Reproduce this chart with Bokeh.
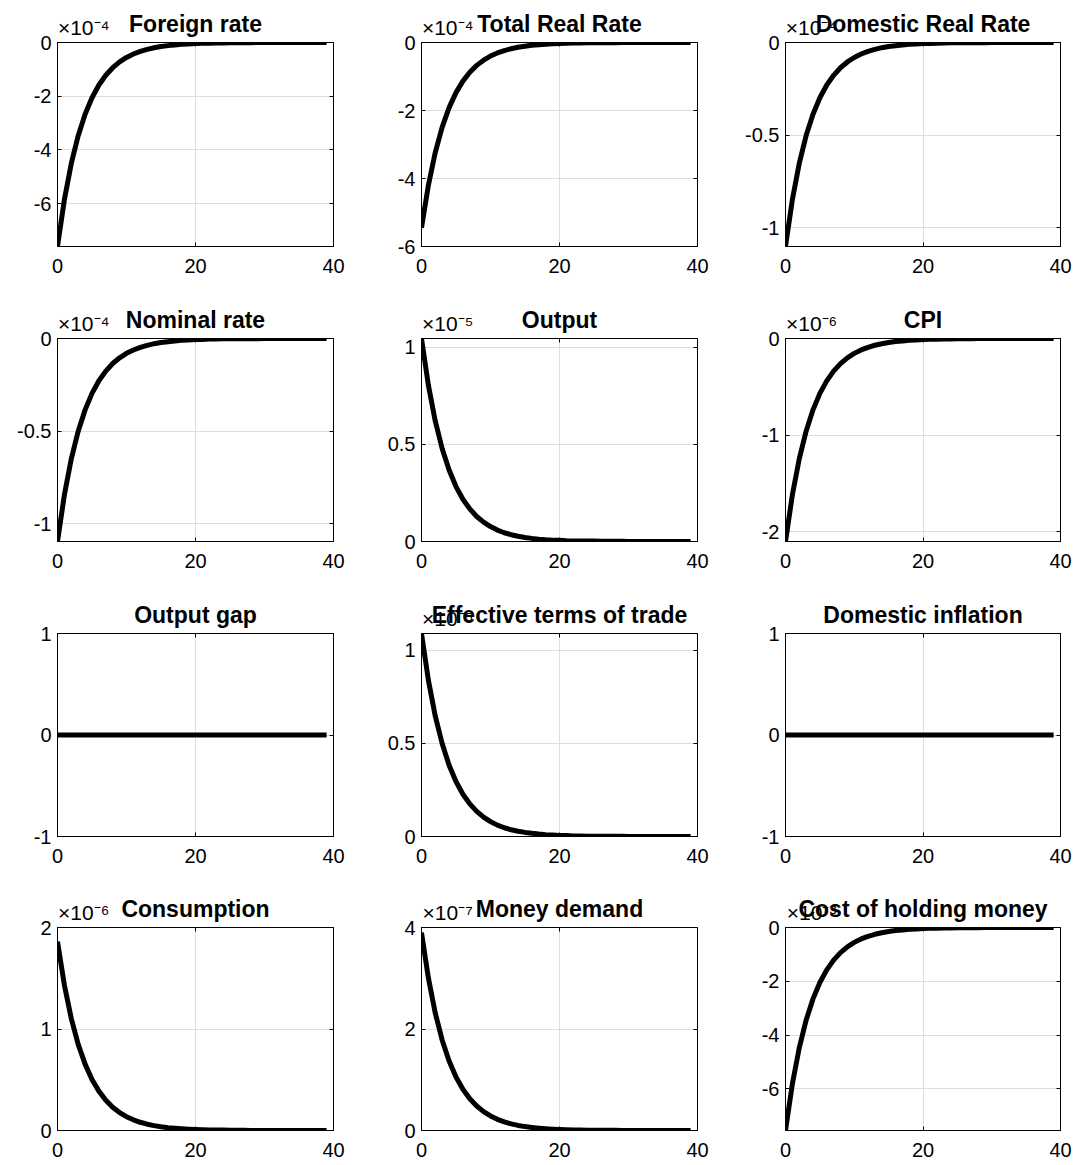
from bokeh.plotting import figure
from bokeh.layouts import gridplot
from bokeh.models import Range1d, FixedTicker, CustomJSTickFormatter, LinearAxis
from bokeh.embed import file_html
from bokeh.resources import INLINE

# ---------------- data (display units; multiply by 10^exponent) ----------------
periods = list(range(40))

foreign_rate = [-7.6, -5.852, -4.506, -3.470, -2.672, -2.057, -1.584, -1.220, -0.939, -0.723,
                -0.557, -0.429, -0.330, -0.254, -0.196, -0.151, -0.116, -0.089, -0.069, -0.053,
                -0.041, -0.031, -0.024, -0.019, -0.014, -0.011, -0.009, -0.007, -0.005, -0.004,
                -0.003, -0.002, -0.002, -0.001, -0.001, -0.001, -0.001, 0.0, 0.0, 0.0]
total_real_rate = [-5.45, -4.197, -3.231, -2.488, -1.916, -1.475, -1.136, -0.875, -0.673, -0.519,
                   -0.399, -0.307, -0.237, -0.182, -0.140, -0.108, -0.083, -0.064, -0.049, -0.038,
                   -0.029, -0.023, -0.017, -0.013, -0.010, -0.008, -0.006, -0.005, -0.004, -0.003,
                   -0.002, -0.002, -0.001, -0.001, -0.001, -0.001, 0.0, 0.0, 0.0, 0.0]
domestic_real_rate = [-1.1, -0.847, -0.652, -0.502, -0.387, -0.298, -0.229, -0.177, -0.136, -0.105,
                      -0.081, -0.062, -0.048, -0.037, -0.028, -0.022, -0.017, -0.013, -0.010, -0.008,
                      -0.006, -0.005, -0.004, -0.003, -0.002, -0.002, -0.001, -0.001, -0.001, -0.001,
                      0.0, 0.0, 0.0, 0.0, 0.0, 0.0, 0.0, 0.0, 0.0, 0.0]
nominal_rate = [-1.095, -0.843, -0.649, -0.500, -0.385, -0.296, -0.228, -0.176, -0.135, -0.104,
                -0.080, -0.062, -0.048, -0.037, -0.028, -0.022, -0.017, -0.013, -0.010, -0.008,
                -0.006, -0.005, -0.003, -0.003, -0.002, -0.002, -0.001, -0.001, -0.001, -0.001,
                0.0, 0.0, 0.0, 0.0, 0.0, 0.0, 0.0, 0.0, 0.0, 0.0]
output = [1.046, 0.805, 0.620, 0.478, 0.368, 0.283, 0.218, 0.168, 0.129, 0.100,
          0.077, 0.059, 0.045, 0.035, 0.027, 0.021, 0.016, 0.012, 0.009, 0.007,
          0.006, 0.004, 0.003, 0.003, 0.002, 0.002, 0.001, 0.001, 0.001, 0.001,
          0.0, 0.0, 0.0, 0.0, 0.0, 0.0, 0.0, 0.0, 0.0, 0.0]
cpi = [-2.1, -1.617, -1.245, -0.959, -0.738, -0.568, -0.438, -0.337, -0.260, -0.200,
       -0.154, -0.118, -0.091, -0.070, -0.054, -0.042, -0.032, -0.025, -0.019, -0.015,
       -0.011, -0.009, -0.007, -0.005, -0.004, -0.003, -0.002, -0.002, -0.001, -0.001,
       -0.001, -0.001, 0.0, 0.0, 0.0, 0.0, 0.0, 0.0, 0.0, 0.0]
output_gap = [0.0, 0.0, 0.0, 0.0, 0.0, 0.0, 0.0, 0.0, 0.0, 0.0,
              0.0, 0.0, 0.0, 0.0, 0.0, 0.0, 0.0, 0.0, 0.0, 0.0,
              0.0, 0.0, 0.0, 0.0, 0.0, 0.0, 0.0, 0.0, 0.0, 0.0,
              0.0, 0.0, 0.0, 0.0, 0.0, 0.0, 0.0, 0.0, 0.0, 0.0]
terms_of_trade = [1.09, 0.839, 0.646, 0.498, 0.383, 0.295, 0.227, 0.175, 0.135, 0.104,
                  0.080, 0.061, 0.047, 0.036, 0.028, 0.022, 0.017, 0.013, 0.010, 0.008,
                  0.006, 0.005, 0.003, 0.003, 0.002, 0.002, 0.001, 0.001, 0.001, 0.001,
                  0.0, 0.0, 0.0, 0.0, 0.0, 0.0, 0.0, 0.0, 0.0, 0.0]
domestic_inflation = [0.0, 0.0, 0.0, 0.0, 0.0, 0.0, 0.0, 0.0, 0.0, 0.0,
                      0.0, 0.0, 0.0, 0.0, 0.0, 0.0, 0.0, 0.0, 0.0, 0.0,
                      0.0, 0.0, 0.0, 0.0, 0.0, 0.0, 0.0, 0.0, 0.0, 0.0,
                      0.0, 0.0, 0.0, 0.0, 0.0, 0.0, 0.0, 0.0, 0.0, 0.0]
consumption = [1.86, 1.432, 1.103, 0.849, 0.654, 0.503, 0.388, 0.299, 0.230, 0.177,
               0.136, 0.105, 0.081, 0.062, 0.048, 0.037, 0.028, 0.022, 0.017, 0.013,
               0.010, 0.008, 0.006, 0.005, 0.004, 0.003, 0.002, 0.002, 0.001, 0.001,
               0.001, 0.001, 0.0, 0.0, 0.0, 0.0, 0.0, 0.0, 0.0, 0.0]
money_demand = [3.9, 3.003, 2.312, 1.780, 1.371, 1.056, 0.813, 0.626, 0.482, 0.371,
                0.286, 0.220, 0.169, 0.130, 0.100, 0.077, 0.060, 0.046, 0.035, 0.027,
                0.021, 0.016, 0.012, 0.010, 0.007, 0.006, 0.004, 0.003, 0.003, 0.002,
                0.002, 0.001, 0.001, 0.001, 0.001, 0.0, 0.0, 0.0, 0.0, 0.0]
cost_of_money = [-7.55, -5.814, -4.476, -3.447, -2.654, -2.044, -1.574, -1.212, -0.933, -0.718,
                 -0.553, -0.426, -0.328, -0.253, -0.194, -0.150, -0.115, -0.089, -0.068, -0.053,
                 -0.041, -0.031, -0.024, -0.019, -0.014, -0.011, -0.008, -0.007, -0.005, -0.004,
                 -0.003, -0.002, -0.002, -0.001, -0.001, -0.001, -0.001, 0.0, 0.0, 0.0]

titles = ["Foreign rate", "Total Real Rate", "Domestic Real Rate",
          "Nominal rate", "Output", "CPI",
          "Output gap", "Effective terms of trade", "Domestic inflation",
          "Consumption", "Money demand", "Cost of holding money"]
series = [foreign_rate, total_real_rate, domestic_real_rate,
          nominal_rate, output, cpi,
          output_gap, terms_of_trade, domestic_inflation,
          consumption, money_demand, cost_of_money]
y_limits = [(-7.6, 0), (-6, 0), (-1.1, 0),
            (-1.095, 0), (0, 1.046), (-2.1, 0),
            (-1, 1), (0, 1.09), (-1, 1),
            (0, 2), (0, 4), (-7.55, 0)]
y_ticks = [[-6, -4, -2, 0], [-6, -4, -2, 0], [-1, -0.5, 0],
           [-1, -0.5, 0], [0, 0.5, 1], [-2, -1, 0],
           [-1, 0, 1], [0, 0.5, 1], [-1, 0, 1],
           [0, 1, 2], [0, 2, 4], [-6, -4, -2, 0]]
exponent_labels = ["\u00d710\u207b\u2074", "\u00d710\u207b\u2074", "\u00d710\u207b\u2074",
                   "\u00d710\u207b\u2074", "\u00d710\u207b\u2075", "\u00d710\u207b\u2076",
                   None, "\u00d710\u207b\u2075", None,
                   "\u00d710\u207b\u2076", "\u00d710\u207b\u2077", "\u00d710\u207b\u00b3"]
x_ticks = [0, 20, 40]
x_limits = (0, 40)
exponent_anchor_x = 3.8   # data position at which the exponent text is centred

# ---------------- layout ----------------
FONT = "Liberation Sans"
col_left = [57, 63, 69]
col_right = [25, 19, 14]
col_frame_w = [276, 276, 275]
row_top = [42, 47, 51, 54]
row_bottom = [45, 41, 37, 35]
row_frame_h = [204, 203, 203, 203]

fmt = CustomJSTickFormatter(code="return tick.toString();")
blank = CustomJSTickFormatter(code="return '';")

grid = []
for r in range(4):
    row = []
    for c in range(3):
        i = r * 3 + c
        p = figure(frame_width=col_frame_w[c], frame_height=row_frame_h[r],
                   min_border_left=col_left[c], min_border_right=col_right[c],
                   min_border_top=row_top[r], min_border_bottom=row_bottom[r],
                   x_range=Range1d(*x_limits), y_range=Range1d(*y_limits[i]),
                   output_backend="svg", toolbar_location=None,
                   background_fill_color="white", border_fill_color="white")
        p.title.text = titles[i]
        p.title.align = "center"
        p.title.text_font = FONT
        p.title.text_font_size = "23px"
        p.title.text_font_style = "bold"
        p.title.text_color = "black"
        p.title.standoff = 12

        p.outline_line_color = "black"
        p.outline_line_width = 1
        p.outline_line_alpha = 1

        p.xaxis.ticker = FixedTicker(ticks=x_ticks)
        p.yaxis.ticker = FixedTicker(ticks=y_ticks[i])
        for ax in (p.xaxis[0], p.yaxis[0]):
            ax.formatter = fmt
            ax.major_label_text_font = FONT
            ax.major_label_text_font_size = "20px"
            ax.major_label_text_color = "black"
            ax.major_tick_in = 4
            ax.major_tick_out = 0
            ax.minor_tick_line_color = None
            ax.axis_line_color = "black"
            ax.major_tick_line_color = "black"
        p.xaxis.major_label_standoff = 12
        p.yaxis.major_label_standoff = 6

        p.xgrid.ticker = FixedTicker(ticks=x_ticks)
        p.ygrid.ticker = FixedTicker(ticks=y_ticks[i])
        p.grid.grid_line_color = "#dedede"
        p.grid.grid_line_width = 1

        # mirrored ticks (box on)
        rax = LinearAxis(ticker=FixedTicker(ticks=y_ticks[i]), formatter=blank,
                         major_label_text_font_size="0px", major_label_standoff=0,
                         major_tick_in=4, major_tick_out=0, axis_line_color=None,
                         minor_tick_line_color=None)
        p.add_layout(rax, "right")
        tax = LinearAxis(ticker=FixedTicker(ticks=x_ticks), formatter=blank,
                         major_label_text_font_size="0px", major_label_standoff=0,
                         major_tick_in=4, major_tick_out=0, axis_line_color=None,
                         minor_tick_line_color=None)
        p.add_layout(tax, "above")

        if exponent_labels[i] is not None:
            code = "return '%s';" % exponent_labels[i]
            eax = LinearAxis(ticker=FixedTicker(ticks=[exponent_anchor_x]),
                             formatter=CustomJSTickFormatter(code=code),
                             major_label_text_font=FONT, major_label_text_font_size="21px",
                             major_label_text_color="black", major_label_standoff=4,
                             major_tick_in=0, major_tick_out=0, axis_line_color=None,
                             major_tick_line_color=None, minor_tick_line_color=None)
            p.add_layout(eax, "above")
            p.title.standoff = -48

        p.line(periods, series[i], line_width=5, line_color="black", line_join="round")
        row.append(p)
    grid.append(row)

layout = gridplot(grid, toolbar_location=None)

open("out.html", "w").write(file_html(layout, INLINE))
